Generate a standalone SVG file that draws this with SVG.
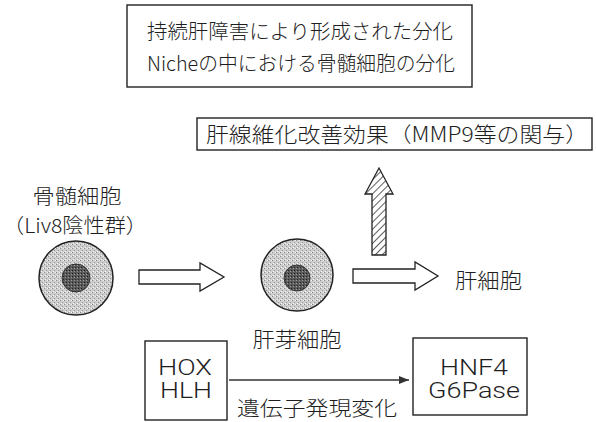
<svg xmlns="http://www.w3.org/2000/svg" width="596" height="422" viewBox="0 0 596 422">
  <defs>
    <style>
      .box { fill: #fff; stroke: #222; stroke-width: 1.4; }
      .t { font-family: "Noto Sans CJK JP", "Noto Sans", sans-serif; font-weight: 300; fill: #1e1e1e; }
      .gene { font-family: Roboto, "Liberation Sans", sans-serif; font-weight: 300; fill: #1e1e1e; }
      .hollow { fill: #fff; stroke: #222; stroke-width: 1.3; stroke-linejoin: miter; }
      .cellOuter { fill: url(#stipple); stroke: #222; stroke-width: 1.5; }
      .cellInner { fill: url(#stippleDark); stroke: #333; stroke-width: 1; }
      .link { stroke: #333; stroke-width: 1.4; fill: none; }
    </style>
    <pattern id="stipple" width="4" height="4" patternUnits="userSpaceOnUse">
      <rect width="4" height="4" fill="#cdcdcd"/>
      <rect x="0" y="0" width="1" height="1" fill="#888"/>
      <rect x="2" y="2" width="1" height="1" fill="#999"/>
      <rect x="3" y="0" width="1" height="1" fill="#f2f2f2"/>
      <rect x="1" y="3" width="1" height="1" fill="#f2f2f2"/>
    </pattern>
    <pattern id="stippleDark" width="3" height="3" patternUnits="userSpaceOnUse">
      <rect width="3" height="3" fill="#5a5a5a"/>
      <rect x="0" y="0" width="1" height="1" fill="#222"/>
      <rect x="2" y="1" width="1" height="1" fill="#999"/>
    </pattern>
    <pattern id="hatch" width="5" height="5" patternUnits="userSpaceOnUse" patternTransform="rotate(45)">
      <rect width="5" height="5" fill="#fff"/>
      <line x1="0" y1="0" x2="0" y2="5" stroke="#333" stroke-width="1.6"/>
    </pattern>
    <marker id="head" viewBox="0 0 10 10" refX="10" refY="5" markerWidth="10" markerHeight="10" markerUnits="userSpaceOnUse" orient="auto">
      <path d="M0,1 L10,5 L0,9 Z" fill="#333"/>
    </marker>
  </defs>

  <rect width="596" height="422" fill="#fff"/>

  <!-- title box -->
  <g id="title">
    <rect class="box" x="127" y="5" width="345" height="82"/>
    <text class="t" x="300" y="39" font-size="20" text-anchor="middle" textLength="306" lengthAdjust="spacingAndGlyphs">持続肝障害により形成された分化</text>
    <text class="t" x="301" y="71" font-size="20" text-anchor="middle" textLength="308" lengthAdjust="spacingAndGlyphs">Nicheの中における骨髄細胞の分化</text>
  </g>

  <!-- anti-fibrosis effect -->
  <g id="effect">
    <rect class="box" x="197" y="118" width="395" height="32"/>
    <text class="t" x="397" y="142" font-size="21" text-anchor="middle" textLength="382" lengthAdjust="spacingAndGlyphs">肝線維化改善効果（MMP9等の関与）</text>
  </g>

  <!-- bone marrow cell -->
  <g id="bmcell">
    <text class="t" x="77" y="204" font-size="20" text-anchor="middle" textLength="89" lengthAdjust="spacingAndGlyphs">骨髄細胞</text>
    <text class="t" x="75" y="233" font-size="20" text-anchor="middle" textLength="144" lengthAdjust="spacingAndGlyphs">（Liv8陰性群）</text>
    <circle class="cellOuter" cx="76" cy="278" r="37"/>
    <circle class="cellInner" cx="76" cy="278" r="14"/>
  </g>

  <!-- hepatoblast -->
  <g id="hepatoblast">
    <circle class="cellOuter" cx="297" cy="275" r="36"/>
    <circle class="cellInner" cx="297" cy="278" r="13"/>
    <text class="t" x="297" y="347" font-size="21" text-anchor="middle" textLength="89" lengthAdjust="spacingAndGlyphs">肝芽細胞</text>
  </g>

  <!-- hepatocyte -->
  <g id="hepatocyte">
    <text class="t" x="455" y="288" font-size="21" textLength="67" lengthAdjust="spacingAndGlyphs">肝細胞</text>
  </g>

  <!-- gene sets -->
  <g id="early">
    <rect class="box" x="145" y="341" width="82" height="79"/>
    <text class="gene" x="185" y="375" font-size="22" text-anchor="middle" textLength="54" lengthAdjust="spacingAndGlyphs">HOX</text>
    <text class="gene" x="186" y="398" font-size="22" text-anchor="middle" textLength="52" lengthAdjust="spacingAndGlyphs">HLH</text>
  </g>
  <g id="late">
    <rect class="box" x="413" y="338" width="114" height="77"/>
    <text class="gene" x="474" y="375" font-size="22" text-anchor="middle" textLength="68" lengthAdjust="spacingAndGlyphs">HNF4</text>
    <text class="gene" x="474" y="398" font-size="22" text-anchor="middle" textLength="92" lengthAdjust="spacingAndGlyphs">G6Pase</text>
  </g>

  <!-- connectors -->
  <g id="connectors">
    <path class="hollow" d="M139,270 H200 V263 L224,277 L200,291 V284 H139 Z"/>
    <path class="hollow" d="M353,269 H415 V262 L438,276 L415,290 V283 H353 Z"/>
    <path d="M372,255 V194 H365 L379,168 L393,194 H386 V255 Z" fill="url(#hatch)" stroke="#222" stroke-width="1.3"/>
    <line class="link" x1="229" y1="380" x2="409" y2="380" marker-end="url(#head)"/>
    <text class="t" x="317" y="416" font-size="20" text-anchor="middle" textLength="160" lengthAdjust="spacingAndGlyphs">遺伝子発現変化</text>
  </g>
</svg>
